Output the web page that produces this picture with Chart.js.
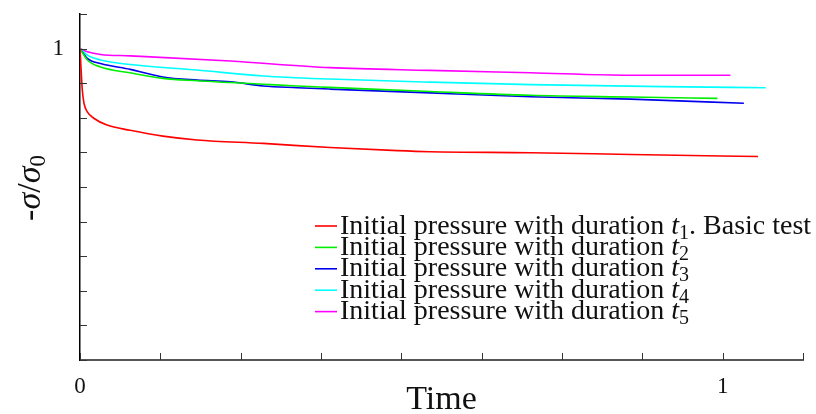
<!DOCTYPE html>
<html lang="en">
<head>
    <meta charset="UTF-8">
    <title>Stress relaxation</title>
    <script src="https://cdn.jsdelivr.net/npm/chart.js"></script>
    <style>
        body { margin: 0; background: #fff; }
        .container { width: 816px; height: 414px; position: relative; }
    </style>
</head>
<body>
    <div class="container">
        <canvas id="relaxChart"></canvas>
    </div>
    <script>
        // normalised stress -sigma/sigma0 against normalised time, one curve per initial load duration
        const seriesLabels = [
            'Initial pressure with duration t_1. Basic test',
            'Initial pressure with duration t_2',
            'Initial pressure with duration t_3',
            'Initial pressure with duration t_4',
            'Initial pressure with duration t_5'
        ];
        const seriesColors = ['#ff0000', '#00ee00', '#0000ee', '#00ffff', '#ff00ff'];

        const timeT1 = [0, 0.002, 0.0036, 0.0062, 0.0114, 0.022, 0.042, 0.078, 0.129, 0.182, 0.285, 0.389, 0.494, 0.545, 0.701, 0.857, 1.055];
        const stressT1 = [1, 0.929, 0.880, 0.842, 0.817, 0.798, 0.779, 0.764, 0.747, 0.736, 0.726, 0.714, 0.705, 0.702, 0.699, 0.694, 0.688];

        const timeT2 = [0, 0.0114, 0.032, 0.078, 0.129, 0.182, 0.234, 0.285, 0.338, 0.389, 0.545, 0.701, 0.857, 0.992];
        const stressT2 = [1, 0.967, 0.947, 0.930, 0.914, 0.907, 0.902, 0.897, 0.892, 0.888, 0.876, 0.865, 0.860, 0.856];

        const timeT3 = [0, 0.0114, 0.032, 0.078, 0.129, 0.182, 0.234, 0.285, 0.338, 0.389, 0.545, 0.701, 0.857, 1.033];
        const stressT3 = [1, 0.972, 0.957, 0.940, 0.918, 0.909, 0.904, 0.892, 0.887, 0.883, 0.872, 0.861, 0.854, 0.842];

        const timeT4 = [0, 0.0114, 0.032, 0.078, 0.182, 0.285, 0.389, 0.545, 0.701, 0.908, 1.067];
        const stressT4 = [1, 0.981, 0.967, 0.954, 0.938, 0.921, 0.912, 0.903, 0.896, 0.890, 0.887];

        const timeT5 = [0, 0.0114, 0.032, 0.078, 0.234, 0.389, 0.545, 0.701, 0.857, 1.012];
        const stressT5 = [1, 0.991, 0.983, 0.979, 0.964, 0.945, 0.937, 0.930, 0.923, 0.923];

        const xLabelled = [0, 1];
        const yLabelled = [1];

        const allTimes = [timeT1, timeT2, timeT3, timeT4, timeT5];
        const allStress = [stressT1, stressT2, stressT3, stressT4, stressT5];

        const serif = "'Liberation Serif', 'DejaVu Serif', serif";

        function toPoints(ts, vs) {
            return ts.map((t, i) => ({ x: t, y: vs[i] }));
        }

        function isLabelled(list, v) {
            return list.some(l => Math.abs(l - v) < 1e-6);
        }

        // small inward tick marks on both axes
        const innerTicks = {
            id: 'innerTicks',
            afterDraw(chart) {
                const ctx = chart.ctx;
                const area = chart.chartArea;
                const xs = chart.scales.x, ys = chart.scales.y;
                ctx.save();
                ctx.strokeStyle = '#333';
                ctx.lineWidth = 1;
                ctx.beginPath();
                xs.ticks.forEach(t => {
                    const px = Math.round(xs.getPixelForValue(t.value)) + 0.5;
                    ctx.moveTo(px, area.bottom);
                    ctx.lineTo(px, area.bottom - 7);
                });
                ys.ticks.forEach(t => {
                    const py = Math.round(ys.getPixelForValue(t.value)) + 0.5;
                    ctx.moveTo(area.left, py);
                    ctx.lineTo(area.left + 7, py);
                });
                ctx.stroke();
                ctx.restore();
            }
        };

        // y axis label -sigma/sigma_0, rotated
        const yAxisLabel = {
            id: 'yAxisLabel',
            afterDraw(chart) {
                const ctx = chart.ctx;
                const parts = [
                    { s: '-', font: '34px ' + serif, dy: 0 },
                    { s: 'σ', font: 'italic 34px ' + serif, dy: 0 },
                    { s: '/', font: '34px ' + serif, dy: 0 },
                    { s: 'σ', font: 'italic 34px ' + serif, dy: 0 },
                    { s: '0', font: '23px ' + serif, dy: 5 }
                ];
                ctx.save();
                let total = 0;
                parts.forEach(p => { ctx.font = p.font; p.w = ctx.measureText(p.s).width; total += p.w; });
                ctx.translate(30, 188);
                ctx.rotate(-Math.PI / 2);
                ctx.fillStyle = '#111';
                ctx.textBaseline = 'alphabetic';
                let x = -total / 2;
                parts.forEach(p => {
                    ctx.font = p.font;
                    ctx.fillText(p.s, x, 10 + p.dy);
                    x += p.w;
                });
                ctx.restore();
            }
        };

        // legend with italic t and subscript index
        const mathLegend = {
            id: 'mathLegend',
            afterDraw(chart) {
                const ctx = chart.ctx;
                ctx.save();
                ctx.textBaseline = 'alphabetic';
                chart.data.datasets.forEach((ds, i) => {
                    const rowY = 226 + i * 21.4;
                    ctx.strokeStyle = ds.borderColor;
                    ctx.lineWidth = 1.6;
                    ctx.beginPath();
                    ctx.moveTo(315, rowY);
                    ctx.lineTo(337, rowY);
                    ctx.stroke();

                    const m = ds.label.match(/^(.*)t_(\d)(.*)$/);
                    const pieces = [
                        { s: m[1], font: '28px ' + serif, dy: 0 },
                        { s: 't', font: 'italic 28px ' + serif, dy: 0 },
                        { s: m[2], font: '20px ' + serif, dy: 5 },
                        { s: m[3], font: '28px ' + serif, dy: 0 }
                    ];
                    let x = 340;
                    ctx.fillStyle = '#111';
                    pieces.forEach(p => {
                        ctx.font = p.font;
                        ctx.fillText(p.s, x, rowY + 7.5 + p.dy);
                        x += ctx.measureText(p.s).width;
                    });
                });
                ctx.restore();
            }
        };

        const datasets = seriesLabels.map((label, i) => ({
            label: label,
            data: toPoints(allTimes[i], allStress[i]),
            borderColor: seriesColors[i],
            borderWidth: 1.6,
            pointRadius: 0,
            fill: false,
            cubicInterpolationMode: 'monotone'
        }));

        new Chart(document.getElementById('relaxChart').getContext('2d'), {
            type: 'line',
            data: { datasets: datasets },
            options: {
                responsive: true,
                maintainAspectRatio: false,
                devicePixelRatio: 1,
                animation: false,
                layout: { padding: { left: 0, right: 13, top: 14, bottom: 0 } },
                plugins: {
                    legend: { display: false },
                    tooltip: { enabled: false }
                },
                scales: {
                    x: {
                        type: 'linear',
                        min: 0,
                        max: 1.125,
                        grid: { display: false, drawTicks: false },
                        border: { display: true, color: '#555', width: 2 },
                        ticks: {
                            stepSize: 0.125,
                            autoSkip: false,
                            maxRotation: 0,
                            padding: 13,
                            color: '#111',
                            font: { family: serif, size: 23 },
                            callback: v => isLabelled(xLabelled, v) ? String(Math.round(v)) : ''
                        },
                        title: {
                            display: true,
                            text: 'Time',
                            color: '#111',
                            font: { family: serif, size: 34, lineHeight: 1 },
                            padding: { top: 0, bottom: -3 }
                        },
                        afterFit: scale => {
                            scale.height = 54;
                            scale.paddingLeft = 0;
                            scale.paddingRight = 0;
                        }
                    },
                    y: {
                        min: 0.1,
                        max: 1.1,
                        grid: { display: false, drawTicks: false },
                        border: { display: true, color: '#000', width: 1.5 },
                        ticks: {
                            stepSize: 0.1,
                            autoSkip: false,
                            padding: 16,
                            color: '#111',
                            font: { family: serif, size: 23 },
                            callback: v => isLabelled(yLabelled, v) ? '1' : ''
                        },
                        afterFit: scale => {
                            scale.width = 80;
                            scale.paddingTop = 0;
                            scale.paddingBottom = 0;
                        }
                    }
                }
            },
            plugins: [innerTicks, yAxisLabel, mathLegend]
        });
    </script>
</body>
</html>
